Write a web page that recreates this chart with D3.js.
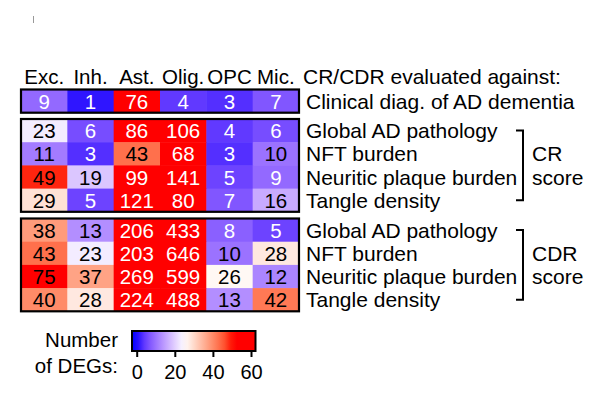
<!DOCTYPE html>
<html><head><meta charset="utf-8">
<script src="https://cdn.jsdelivr.net/npm/d3@7"></script>
<style>body{margin:0;background:#fff}svg{display:block}text{font-family:"Liberation Sans",Arial,Helvetica,sans-serif}</style>
</head><body>
<svg id="c" width="591" height="393"></svg>
<script>
const cellTypes = ["Exc.", "Inh.", "Ast.", "Olig.", "OPC", "Mic."];
const clinicalLabel = ["Clinical diag. of AD dementia"];
const clinicalValues = [[9, 1, 76, 4, 3, 7]];
const pathLabels = ["Global AD pathology", "NFT burden", "Neuritic plaque burden", "Tangle density"];
const crValues = [
  [23, 6, 86, 106, 4, 6],
  [11, 3, 43, 68, 3, 10],
  [49, 19, 99, 141, 5, 9],
  [29, 5, 121, 80, 7, 16]
];
const cdrValues = [
  [38, 13, 206, 433, 8, 5],
  [43, 23, 203, 646, 10, 28],
  [75, 37, 269, 599, 26, 12],
  [40, 28, 224, 488, 13, 42]
];
const groupNames = ["", "CR\nscore", "CDR\nscore"];
const legendTicks = [0, 20, 40, 60];
const colorDomain = [0, 25, 50];

const svg = d3.select("#c");
const color = d3.scaleLinear().domain(colorDomain).range(["#0000ff", "#ffffff", "#ff0000"])
  .interpolate(d3.interpolateLab).clamp(true);

const x = d3.scaleBand().domain(cellTypes).range([21, 299]);
const rowH = 23.2;
const blocks = [
  {labels: clinicalLabel, values: clinicalValues, top: 89.5, name: groupNames[0]},
  {labels: pathLabels, values: crValues, top: 119, name: groupNames[1]},
  {labels: pathLabels, values: cdrValues, top: 218.5, name: groupNames[2]}
];

// tiny artifact mark
svg.append("line").attr("x1", 33.5).attr("x2", 33.5).attr("y1", 16).attr("y2", 23)
  .attr("stroke", "#999").attr("stroke-width", 1);

// column headers
svg.selectAll("text.col").data(cellTypes).join("text").attr("class", "col")
  .attr("x", d => x(d) + x.bandwidth() / 2).attr("y", 84)
  .attr("text-anchor", "middle").attr("font-size", 20.5).text(d => d);
svg.append("text").attr("x", 303).attr("y", 84).attr("font-size", 21).text("CR/CDR evaluated against:");

const txtColor = v => ((v >= 10 && v < 50) || v === 75) ? "#000" : "#fff";

blocks.forEach(b => {
  const y = d3.scaleBand().domain(d3.range(b.labels.length)).range([b.top, b.top + rowH * b.labels.length]);
  const g = svg.append("g");
  b.values.forEach((row, ri) => {
    row.forEach((v, ci) => {
      g.append("rect").attr("x", x(cellTypes[ci])).attr("y", y(ri))
        .attr("width", x.bandwidth() + 0.5).attr("height", y.bandwidth() + 0.5)
        .attr("fill", color(v));
      g.append("text").attr("x", x(cellTypes[ci]) + x.bandwidth() / 2).attr("y", y(ri) + y.bandwidth() / 2 + 7.5)
        .attr("text-anchor", "middle").attr("font-size", 20.5).attr("fill", txtColor(v)).text(v);
    });
    svg.append("text").attr("x", 306).attr("y", y(ri) + y.bandwidth() / 2 + 7.5)
      .attr("font-size", 21).text(b.labels[ri]);
  });
  g.append("rect").attr("x", x.range()[0]).attr("y", b.top)
    .attr("width", x.range()[1] - x.range()[0]).attr("height", rowH * b.labels.length)
    .attr("fill", "none").attr("stroke", "#000").attr("stroke-width", 2.2);
  if (b.name) {
    const y0 = y(0) + y.bandwidth() / 2, y1 = y(b.labels.length - 1) + y.bandwidth() / 2;
    const bx = 523;
    svg.append("path").attr("d", `M${bx - 7},${y0}H${bx}V${y1}H${bx - 7}`)
      .attr("fill", "none").attr("stroke", "#000").attr("stroke-width", 2);
    const lines = b.name.split("\n");
    lines.forEach((t, i) => {
      svg.append("text").attr("x", 532).attr("y", y(1 + i) + y.bandwidth() / 2 + 7.5)
        .attr("font-size", 21).text(t);
    });
  }
});

// legend
const lx = d3.scaleLinear().domain([0, 60]).range([136.7, 251]);
const lDom = [lx.invert(132), lx.invert(255.5)];
const defs = svg.append("defs");
const grad = defs.append("linearGradient").attr("id", "lg").attr("x1", "0%").attr("x2", "100%");
d3.range(0, 1.0001, 0.05).forEach(t => {
  const v = lDom[0] + t * (lDom[1] - lDom[0]);
  grad.append("stop").attr("offset", (t * 100) + "%").attr("stop-color", color(v));
});
svg.append("rect").attr("x", 132).attr("y", 331).attr("width", 255.5 - 132).attr("height", 20)
  .attr("fill", "url(#lg)").attr("stroke", "#000").attr("stroke-width", 2);
const ax = svg.append("g").attr("transform", "translate(0,351)")
  .call(d3.axisBottom(lx).tickValues(legendTicks).tickSize(6).tickSizeOuter(0));
ax.select(".domain").remove();
ax.selectAll(".tick line").attr("stroke", "#000").attr("stroke-width", 2);
ax.selectAll(".tick text").attr("font-size", 20).attr("fill", "#000").attr("dy", "0.95em")
  .style("font-family", '"Liberation Sans",Arial,sans-serif');
svg.append("text").attr("x", 118).attr("y", 347).attr("text-anchor", "end").attr("font-size", 20.5).text("Number");
svg.append("text").attr("x", 118).attr("y", 373).attr("text-anchor", "end").attr("font-size", 20.5).text("of DEGs:");
</script>
</body></html>
